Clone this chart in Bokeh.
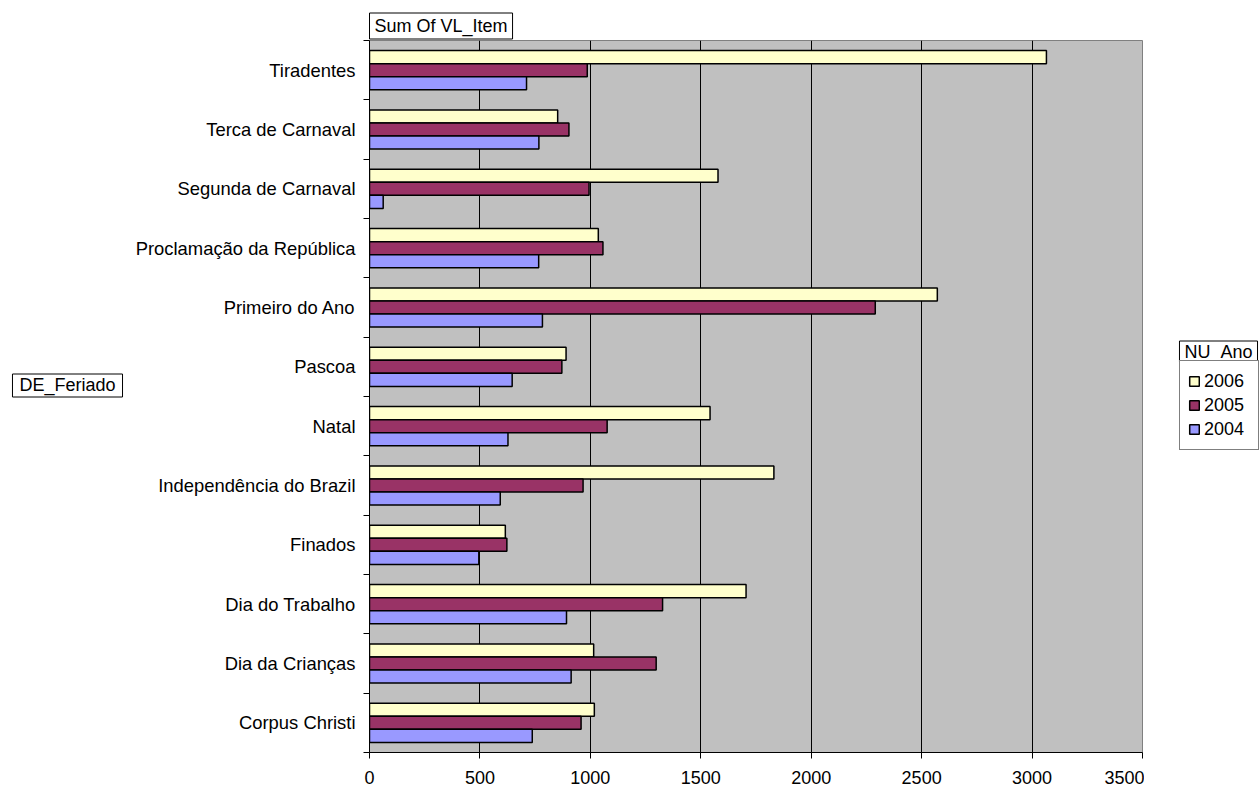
from bokeh.plotting import figure
from bokeh.layouts import row
from bokeh.models import (FixedTicker, Range1d, Legend, LegendItem, ColumnDataSource, Title, Label)
from bokeh.embed import file_html
from bokeh.resources import INLINE

# ---- data ----
holidays = ["Corpus Christi", "Dia da Crianças", "Dia do Trabalho", "Finados",
            "Independência do Brazil", "Natal", "Pascoa", "Primeiro do Ano",
            "Proclamação da República", "Segunda de Carnaval", "Terca de Carnaval",
            "Tiradentes"]
v2006 = [1018, 1015, 1705, 615, 1831, 1542, 890, 2571, 1036, 1578, 852, 3065]
v2005 = [958, 1298, 1327, 622, 967, 1076, 871, 2290, 1057, 994, 903, 986]
v2004 = [737, 913, 892, 495, 592, 627, 646, 783, 766, 62, 767, 711]
years = ["2006", "2005", "2004"]
colors = ["#FFFFCC", "#993366", "#9999FF"]
x_ticks = [0, 500, 1000, 1500, 2000, 2500, 3000, 3500]

FONT = "Liberation Sans"
FS = "18px"
H = 790
WL, WM, WR = 130, 1014, 115
FRAME_BOTTOM = 752  # frames of the row are aligned: 40 .. 752 px

# ---------------- main chart ----------------
p = figure(width=WM, height=H, output_backend="svg", toolbar_location=None,
           x_range=Range1d(0, 3500), y_range=Range1d(0, len(holidays)),
           min_border_left=369 - WL, min_border_right=2, min_border_top=40,
           min_border_bottom=H - FRAME_BOTTOM)
p.background_fill_color = "#C0C0C0"
p.border_fill_color = "white"
p.outline_line_color = "#808080"
p.outline_line_width = 1

bar_h = 0.22
offsets = [bar_h, 0.0, -bar_h]
series = [v2006, v2005, v2004]
for yr, vals, col, off in zip(years, series, colors, offsets):
    src = ColumnDataSource(dict(
        y=[i + 0.5 + off for i in range(len(holidays))],
        right=vals,
    ))
    p.hbar(y="y", left=0, right="right", height=bar_h, source=src,
           fill_color=col, line_color="black", line_width=1.5)

xa = p.xaxis[0]
xa.ticker = FixedTicker(ticks=x_ticks, minor_ticks=[])
xa.axis_line_color = "black"
xa.major_tick_line_color = "black"
xa.major_tick_out = 6
xa.major_tick_in = 0
xa.minor_tick_line_color = None
xa.major_label_text_font = FONT
xa.major_label_text_font_size = FS
xa.major_label_text_color = "black"
xa.major_label_standoff = 12

ya = p.yaxis[0]
ya.ticker = FixedTicker(ticks=[i + 0.5 for i in range(len(holidays))],
                        minor_ticks=list(range(len(holidays) + 1)))
ya.major_label_overrides = {i + 0.5: h for i, h in enumerate(holidays)}
ya.axis_line_color = "black"
ya.major_tick_line_color = None
ya.minor_tick_line_color = "black"
ya.minor_tick_out = 6
ya.minor_tick_in = 0
ya.major_label_text_font = FONT
ya.major_label_text_font_size = "18.4px"
ya.major_label_text_color = "black"
ya.major_label_standoff = 8

p.xgrid.grid_line_color = "black"
p.xgrid.grid_line_width = 1
p.xgrid.ticker = FixedTicker(ticks=x_ticks)
p.ygrid.grid_line_color = None

t = Title(text="Sum Of VL_Item", align="left", vertical_align="bottom",
          offset=0, standoff=3, text_font=FONT, text_font_size=FS,
          text_font_style="normal", text_color="black",
          background_fill_color="white", border_line_color="black",
          border_line_width=1, padding=dict(left=5, right=5, top=3, bottom=3))
p.add_layout(t, "above")

box_kw = dict(text_font=FONT, text_font_size=FS, text_color="black",
              border_line_color="black", border_line_width=1,
              background_fill_color="white", text_align="center",
              text_baseline="middle", x_units="screen", y_units="screen")


def strip(width):
    f = figure(width=width, height=H, output_backend="svg", toolbar_location=None,
               x_range=Range1d(0, 1), y_range=Range1d(0, 1),
               x_axis_type=None, y_axis_type=None,
               min_border_left=0, min_border_right=0, min_border_top=40,
               min_border_bottom=H - FRAME_BOTTOM)
    f.outline_line_color = None
    f.grid.visible = False
    f.background_fill_color = "white"
    return f


# ---------------- left strip: DE_Feriado ----------------
pl = strip(WL)
pl.add_layout(Label(x=67, y=FRAME_BOTTOM - 385, text="DE_Feriado",
                    padding=dict(left=7, right=7, top=1, bottom=2), **box_kw))

# ---------------- right strip: NU_Ano legend ----------------
pr = strip(WR)
swatches = []
for yr, col in zip(years, colors):
    # legend-only helper glyph, kept outside the strip's visible range
    r = pr.hbar(y=[0.5], left=[2], right=[3], height=0.1, fill_color=col,
                line_color="black", line_width=1.5)
    swatches.append(LegendItem(label=yr, renderers=[r]))
legend = Legend(items=swatches, location=(35, FRAME_BOTTOM - 450), orientation="vertical",
                padding=8, spacing=0, margin=0,
                glyph_width=12, glyph_height=12, label_height=24, label_standoff=4,
                label_width=46,
                label_text_font=FONT, label_text_font_size=FS, label_text_color="black",
                border_line_color="black", border_line_width=1,
                background_fill_color="white", background_fill_alpha=1)
pr.add_layout(legend)
pr.add_layout(Label(x=74, y=FRAME_BOTTOM - 351, text="NU_Ano",
                    padding=dict(left=5, right=5, top=1, bottom=0), **box_kw))

layout = row(pl, p, pr, spacing=0)
open("out.html", "w").write(file_html(layout, INLINE))
